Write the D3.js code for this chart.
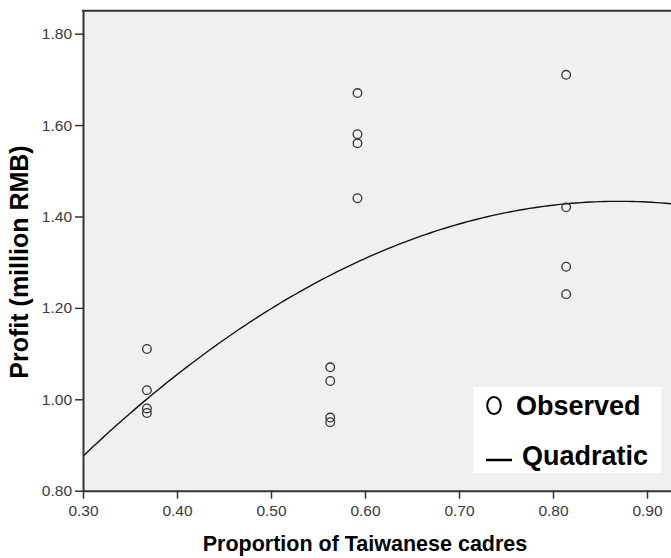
<!DOCTYPE html>
<html>
<head>
<meta charset="utf-8">
<script src="https://cdn.jsdelivr.net/npm/d3@7"></script>
<style>
    body { margin: 0; background: #fff; }
    svg { display: block; font-family: "Liberation Sans", Arial, sans-serif; }
    .tick-label { font-size: 15.5px; fill: #3a3a3a; }
    .axis-title { font-size: 21.5px; font-weight: bold; fill: #000; }
    .legend-text { font-size: 27px; font-weight: bold; fill: #000; }
</style>
</head>
<body>
<svg id="chart" width="671" height="558"></svg>
<script>
// proportion of Taiwanese cadres, one value per observed firm
const proportion = [0.368, 0.368, 0.368, 0.368,
                    0.563, 0.563, 0.563, 0.563,
                    0.592, 0.592, 0.592, 0.592,
                    0.814, 0.814, 0.814, 0.814];
// profit in million RMB
const profit = [1.11, 1.02, 0.98, 0.97,
                1.07, 1.04, 0.96, 0.95,
                1.67, 1.58, 1.56, 1.44,
                1.71, 1.42, 1.29, 1.23];
const xTicks = [0.30, 0.40, 0.50, 0.60, 0.70, 0.80, 0.90];
const yTicks = [0.80, 1.00, 1.20, 1.40, 1.60, 1.80];
const legendLabels = ['Observed', 'Quadratic'];

/** least squares fit y = b0 + b1 x + b2 x^2 */
function fitQuadratic(xs, ys) {
    let s = [0, 0, 0, 0, 0], t = [0, 0, 0];
    xs.forEach((x, i) => {
        for (let k = 0; k < 5; k++) s[k] += Math.pow(x, k);
        for (let k = 0; k < 3; k++) t[k] += ys[i] * Math.pow(x, k);
    });
    // augmented matrix, gaussian elimination
    let m = [[s[0], s[1], s[2], t[0]],
             [s[1], s[2], s[3], t[1]],
             [s[2], s[3], s[4], t[2]]];
    for (let c = 0; c < 3; c++) {
        for (let r = c + 1; r < 3; r++) {
            let f = m[r][c] / m[c][c];
            for (let k = c; k < 4; k++) m[r][k] -= f * m[c][k];
        }
    }
    let b = [0, 0, 0];
    for (let r = 2; r >= 0; r--) {
        let v = m[r][3];
        for (let k = r + 1; k < 3; k++) v -= m[r][k] * b[k];
        b[r] = v / m[r][r];
    }
    return x => b[0] + b[1] * x + b[2] * x * x;
}

const svg = d3.select('#chart');
const plot = {left: 83, top: 10.8, right: 694, bottom: 490.7};

const scaleX = d3.scaleLinear()
    .domain([0.30, 0.95])
    .range([plot.left, plot.right]);
const scaleY = d3.scaleLinear()
    .domain([0.80, 1.85])
    .range([plot.bottom, plot.top]);

// plot background
svg.append('rect')
    .attr('x', plot.left)
    .attr('y', plot.top)
    .attr('width', plot.right - plot.left)
    .attr('height', plot.bottom - plot.top)
    .attr('fill', '#f0f0f0');

// fitted curve
const quad = fitQuadratic(proportion, profit);
const curveData = d3.range(0.30, 0.9501, 0.005).map(x => [x, quad(x)]);
svg.append('path')
    .datum(curveData)
    .attr('d', d3.line().x(d => scaleX(d[0])).y(d => scaleY(d[1])))
    .attr('fill', 'none')
    .attr('stroke', '#111')
    .attr('stroke-width', 1.4);

// observed points
svg.append('g')
    .selectAll('circle')
    .data(proportion.map((x, i) => [x, profit[i]]))
    .join('circle')
    .attr('cx', d => scaleX(d[0]))
    .attr('cy', d => scaleY(d[1]))
    .attr('r', 4.3)
    .attr('fill', 'none')
    .attr('stroke', '#333')
    .attr('stroke-width', 1.3);

// axes
const xAxis = svg.append('g')
    .attr('transform', `translate(0,${plot.bottom})`)
    .call(d3.axisBottom(scaleX).tickValues(xTicks).tickFormat(d3.format('.2f'))
        .tickSize(8).tickSizeOuter(0));
const yAxis = svg.append('g')
    .attr('transform', `translate(${plot.left},0)`)
    .call(d3.axisLeft(scaleY).tickValues(yTicks).tickFormat(d3.format('.2f'))
        .tickSize(8).tickSizeOuter(0));

for (let ax of [xAxis, yAxis]) {
    ax.select('.domain').attr('stroke', '#333').attr('stroke-width', 2);
    ax.selectAll('.tick line').attr('stroke', '#333').attr('stroke-width', 1.5);
    ax.selectAll('.tick text')
        .attr('class', 'tick-label')
        .attr('font-size', null)
        .attr('font-family', null)
        .attr('fill', null);
}
xAxis.selectAll('.tick text').attr('dy', '0.71em').attr('y', 14);
yAxis.selectAll('.tick text').attr('x', -11);

// top border of the frame
svg.append('line')
    .attr('x1', plot.left - 1)
    .attr('x2', plot.right)
    .attr('y1', plot.top)
    .attr('y2', plot.top)
    .attr('stroke', '#333')
    .attr('stroke-width', 2);

// axis titles
svg.append('text')
    .attr('class', 'axis-title')
    .attr('x', 365)
    .attr('y', 551)
    .attr('text-anchor', 'middle')
    .text('Proportion of Taiwanese cadres');

svg.append('text')
    .attr('class', 'axis-title')
    .attr('transform', 'translate(28,262) rotate(-90)')
    .attr('text-anchor', 'middle')
    .style('font-size', '25px')
    .text('Profit (million RMB)');

// legend
let legend = svg.append('g');
legend.append('rect')
    .attr('x', 473)
    .attr('y', 387)
    .attr('width', 188)
    .attr('height', 86)
    .attr('fill', '#fff');
legend.append('ellipse')
    .attr('cx', 494)
    .attr('cy', 405.5)
    .attr('rx', 6.8)
    .attr('ry', 8.6)
    .attr('fill', 'none')
    .attr('stroke', '#000')
    .attr('stroke-width', 2);
legend.append('line')
    .attr('x1', 486)
    .attr('x2', 512)
    .attr('y1', 460)
    .attr('y2', 460)
    .attr('stroke', '#000')
    .attr('stroke-width', 2.5);
legend.selectAll('text.legend-text')
    .data(legendLabels)
    .join('text')
    .attr('class', 'legend-text')
    .attr('x', (d, i) => i === 0 ? 516 : 522)
    .attr('y', (d, i) => i === 0 ? 415 : 465)
    .text(d => d);
</script>
</body>
</html>
